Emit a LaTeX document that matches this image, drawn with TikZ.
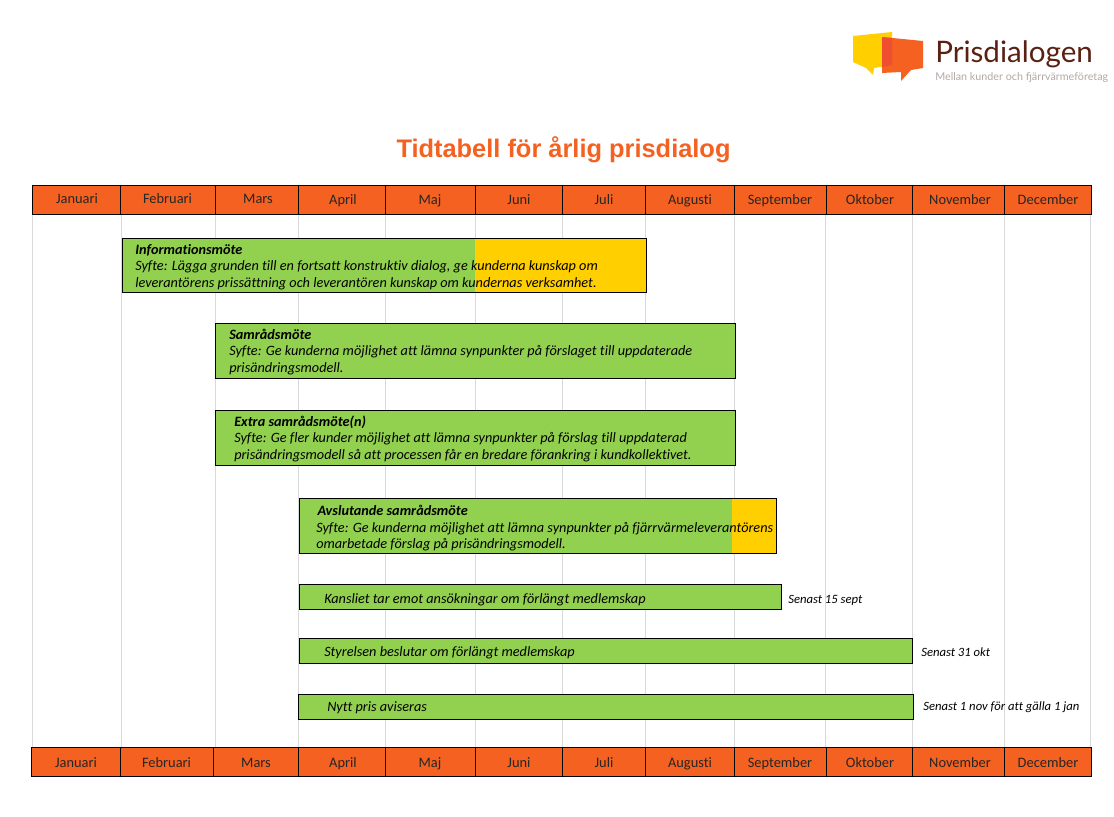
\documentclass[tikz,border=0pt]{standalone}
\usepackage{fontspec}
\setmainfont[Ligatures=NoCommon]{Carlito}
\newfontfamily\titlefont{Liberation Sans}
\newfontfamily\logofont{Lato}
\definecolor{hdr}{HTML}{F46120}
\definecolor{bar}{HTML}{92D050}
\definecolor{gul}{HTML}{FFCF00}
\definecolor{grid}{HTML}{D9D9D9}
\definecolor{brun}{HTML}{5A2112}
\definecolor{gra}{HTML}{B5A8A4}
\definecolor{lapp}{HTML}{F04E30}
\newcommand{\pxbox}[6]{%
  \node[#6,inner sep=0pt,outer sep=0pt,minimum width={(#4-#2)*0.75pt},minimum height={(#5-#3)*0.75pt}]
    (#1) at ({(#2+#4)/2},{(#3+#5)/2}) {};}
\tikzset{
  month/.style={draw=black,line width=0.75pt,fill=hdr},
  mlabel/.style={font=\fontsize{10.8}{12}\selectfont,text=black!85,inner sep=0pt,anchor=base},
  barbox/.style={draw=black,line width=0.75pt,fill=bar},
  yellowbox/.style={fill=gul},
  bartext/.style={font=\fontsize{10.7}{12.4}\selectfont\itshape,anchor=north west,inner sep=0pt,align=left,text=black},
  note/.style={font=\fontsize{9.5}{10}\selectfont\itshape,anchor=base west,inner sep=0pt,text=black},
  gridline/.style={draw=grid,line width=0.6pt},
}
\begin{document}
\begin{tikzpicture}[x=0.75pt,y=-0.75pt]
\useasboundingbox (0,0) rectangle (1114,817);
\fill[white] (0,0) rectangle (1114,817);
% grid
\foreach \x in {32,121,215,298,385,475,562,645,734,825,912,1004,1090}
  \draw[gridline] (\x,214) -- (\x,747);
% month headers
\foreach \a/\b/\t/\c/\y/\i in {32/120/Januari/77/203.5/a,120/215/Februari/167.5/203.5/b,215/298/Mars/258/203.5/c,298/385/April/343/204.5/d,385/475/Maj/430/204.5/e,475/562/Juni/519/204.5/f,562/645/Juli/604/204/g,645/734/Augusti/690/204/h,734/826/September/780/204/i,826/912/Oktober/870/204/j,912/1004/November/960/204/k,1004/1091/December/1048/204/l}{
  \pxbox{top\i}{\a}{185}{\b}{214}{month}
  \node[mlabel] (toplabel\i) at (\c,\y) {\t};
}
\foreach \a/\b/\t/\c/\i in {31/120/Januari/76/a,120/213/Februari/166.5/b,213/298/Mars/256/c,298/385/April/343/d,385/475/Maj/430/e,475/562/Juni/519/f,562/645/Juli/604/g,645/734/Augusti/690/h,734/826/September/780/i,826/912/Oktober/870/j,912/1004/November/960/k,1004/1091/December/1048/l}{
  \pxbox{bot\i}{\a}{747}{\b}{776}{month}
  \node[mlabel] (botlabel\i) at (\c,767) {\t};
}
% title
\node[font=\titlefont\bfseries\fontsize{19.05}{22}\selectfont,text=hdr,inner sep=0pt,anchor=base] (title) at (563.5,157) {Tidtabell för årlig prisdialog};
% logo
\fill[gul] (853,36) -- (892,32) -- (892,65) -- (874,68) -- (873,75) -- (866,68) -- (853,62) -- cycle;
\fill[hdr] (882,37) -- (923,41) -- (923,68) -- (911,70) -- (901,81) -- (901,72) -- (882,73) -- cycle;
\fill[lapp] (882,37) -- (892,38) -- (892,65) -- (882,67) -- cycle;
\node[font=\logofont\fontsize{22.2}{24}\selectfont,text=brun,inner sep=0pt,anchor=base west] (logotext) at (935,63) {Prisdialogen};
\node[font=\logofont\fontsize{8.07}{10}\selectfont,text=gra,inner sep=0pt,anchor=base west] (logosub) at (935,80) {Mellan kunder och fjärrvärmeföretag};
% bars
\pxbox{b1}{122}{238}{646}{292}{barbox}
\pxbox{b1y}{475}{238.5}{645.5}{291.5}{yellowbox}
\node[bartext] (t1) at (135,244) {\textbf{Informationsmöte}\\Syfte: Lägga grunden till en fortsatt konstruktiv dialog, ge kunderna kunskap om\\leverantörens prissättning och leverantören kunskap om kundernas verksamhet.};
\pxbox{b2}{215}{323}{735}{378}{barbox}
\node[bartext] (t2) at (229,328.5) {\textbf{Samrådsmöte}\\Syfte: Ge kunderna möjlighet att lämna synpunkter på förslaget till uppdaterade\\prisändringsmodell.};
\pxbox{b3}{215}{410}{735}{465}{barbox}
\node[bartext] (t3) at (234,415.5) {\textbf{Extra samrådsmöte(n)}\\Syfte: Ge fler kunder möjlighet att lämna synpunkter på förslag till uppdaterad\\prisändringsmodell så att processen får en bredare förankring i kundkollektivet.};
\pxbox{b4}{299}{498}{776}{553}{barbox}
\pxbox{b4y}{732}{498.5}{775.5}{552.5}{yellowbox}
\node[bartext] (t4) at (316,505) {\hspace*{1pt}\textbf{Avslutande samrådsmöte}\\Syfte: Ge kunderna möjlighet att lämna synpunkter på fjärrvärmeleverantörens\\omarbetade förslag på prisändringsmodell.};
\pxbox{b5}{299}{584}{781}{609}{barbox}
\node[bartext] (t5) at (324,593.5) {Kansliet tar emot ansökningar om förlängt medlemskap};
\pxbox{b6}{299}{638}{912}{663}{barbox}
\node[bartext] (t6) at (324,646.5) {Styrelsen beslutar om förlängt medlemskap};
\pxbox{b7}{298}{694}{913}{719}{barbox}
\node[bartext] (t7) at (327,701.5) {Nytt pris aviseras};
\node[note] (n5) at (788,603) {Senast 15 sept};
\node[note] (n6) at (921,656) {Senast 31 okt};
\node[note] (n7) at (923,710) {Senast 1 nov för att gälla 1 jan};
\end{tikzpicture}
\end{document}
